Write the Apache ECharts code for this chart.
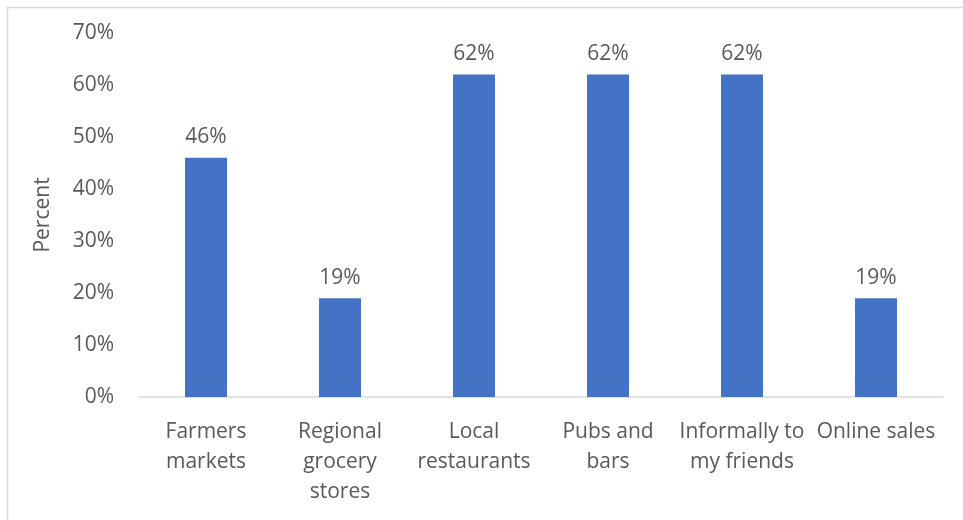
<!DOCTYPE html>
<html>
<head>
<meta charset="utf-8">
<script src="https://cdn.jsdelivr.net/npm/echarts@6/dist/echarts.min.js"></script>
<style>
  html, body { margin: 0; padding: 0; background: #fff; }
  #chart { width: 963px; height: 520px; }
</style>
</head>
<body>
<div id="chart"></div>
<script>
// Where the produce is sold, share of respondents
const categories = [
  'Farmers\nmarkets',
  'Regional\ngrocery\nstores',
  'Local\nrestaurants',
  'Pubs and\nbars',
  'Informally to\nmy friends',
  'Online sales'
];
const percentValues = [46, 19, 62, 62, 62, 19];
const yTicks = { min: 0, max: 70, step: 10 };

const FONT = 'Open Sans';
const TEXT = '#595959';
const SIZE = 21;

const chart = echarts.init(document.getElementById('chart'), null, { renderer: 'canvas' });
chart.setOption({
  backgroundColor: '#ffffff',
  animation: false,
  graphic: [{
    type: 'rect',
    shape: { x: 7.5, y: 7.5, width: 1000, height: 1000 },
    style: { fill: 'none', stroke: '#D9D9D9', lineWidth: 1.5 },
    silent: true
  }],
  grid: { left: 139, right: 20, top: 33, bottom: 123, containLabel: false },
  xAxis: {
    type: 'category',
    data: categories,
    axisLine: { show: true, lineStyle: { color: '#D9D9D9', width: 1.5 } },
    axisTick: { show: false },
    axisLabel: {
      color: TEXT, fontFamily: FONT, fontSize: SIZE, lineHeight: 30,
      margin: 20, interval: 0
    }
  },
  yAxis: {
    type: 'value',
    min: yTicks.min, max: yTicks.max, interval: yTicks.step,
    name: 'Percent',
    nameLocation: 'middle',
    nameGap: 85,
    nameRotate: 90,
    nameTextStyle: { color: TEXT, fontFamily: FONT, fontSize: SIZE },
    axisLine: { show: false },
    axisTick: { show: false },
    splitLine: { show: false },
    axisLabel: {
      color: TEXT, fontFamily: FONT, fontSize: SIZE, margin: 25,
      formatter: v => v + '%'
    }
  },
  series: [{
    type: 'bar',
    data: percentValues,
    barWidth: 42,
    itemStyle: { color: '#4472C4' },
    label: {
      show: true, position: 'top', distance: 10,
      color: TEXT, fontFamily: FONT, fontSize: SIZE,
      formatter: p => p.value + '%'
    }
  }]
});
</script>
</body>
</html>
